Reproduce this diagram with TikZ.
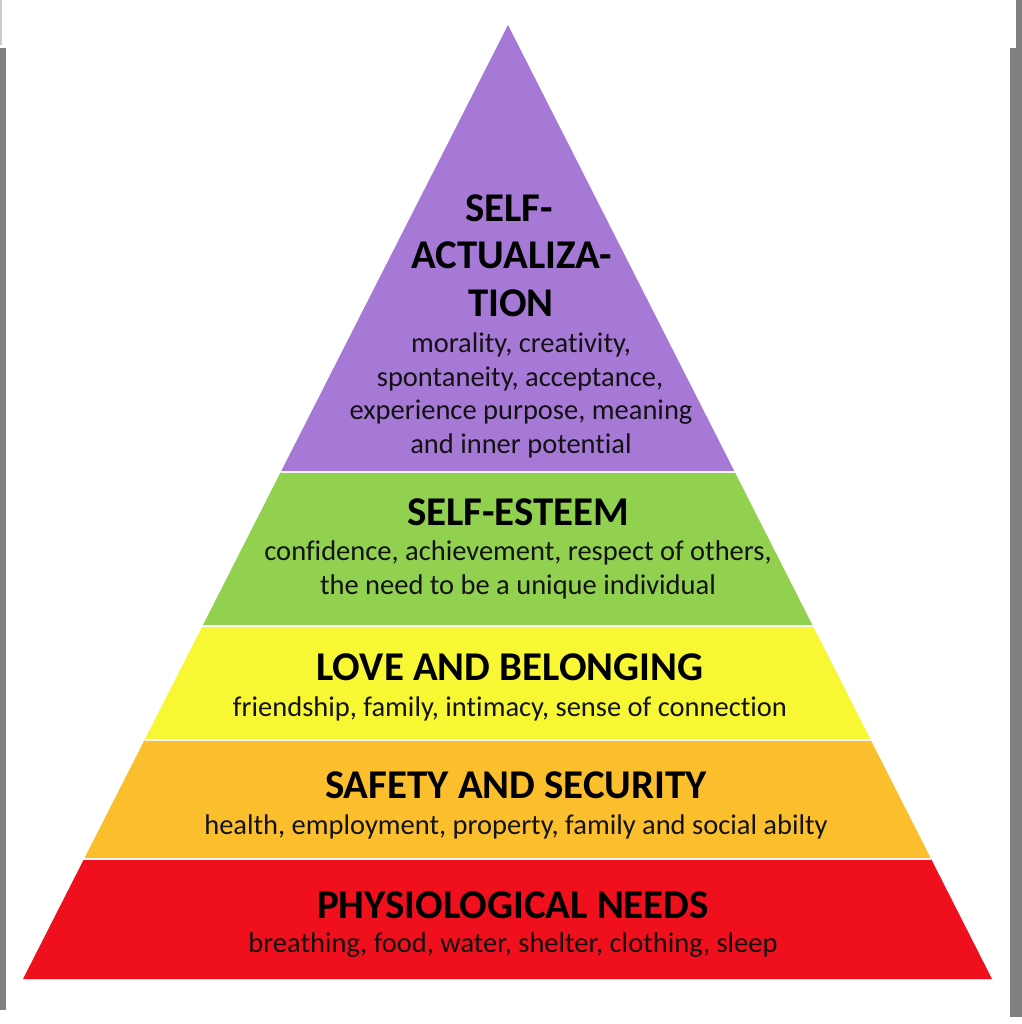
\documentclass[tikz,border=0pt]{standalone}
\usepackage{fontspec}
\setmainfont{Carlito}[Ligatures={NoCommon}]
\usetikzlibrary{calc}
\definecolor{lvpurple}{RGB}{166,121,214}
\definecolor{lvgreen}{RGB}{146,208,80}
\definecolor{lvyellow}{RGB}{247,247,52}
\definecolor{lvorange}{RGB}{251,190,45}
\definecolor{lvred}{RGB}{240,15,28}
\definecolor{lvtext}{RGB}{18,18,18}
\definecolor{framegray}{RGB}{128,128,128}
\tikzset{
  title/.style={anchor=base, inner sep=0pt, text=black, font=\fontsize{41}{48}\selectfont\bfseries},
  desc/.style={anchor=base, inner sep=0pt, text=lvtext, font=\fontsize{28.6}{33}\selectfont},
  sep/.style={draw=white!92!gray, line width=1.2bp},
}
\begin{document}
\begin{tikzpicture}[x=1bp,y=-1bp]
\useasboundingbox (0,0) rectangle (1022,1024);
\fill[white] (0,0) rectangle (1022,1024);
% frame bars
\fill[framegray] (0,48) rectangle (6,1010);
\fill[framegray!40] (0,0) rectangle (2,45);
\fill[framegray] (1010,48) rectangle (1022,1017);
\fill[framegray] (1016,0) rectangle (1022,48);
% pyramid corners
\coordinate (A) at (508,25);
\coordinate (L) at (23,979);
\coordinate (R) at (992,979);
\coordinate (l1) at ($(A)!0.46855!(L)$); \coordinate (r1) at ($(A)!0.46855!(R)$);
\coordinate (l2) at ($(A)!0.62998!(L)$); \coordinate (r2) at ($(A)!0.62998!(R)$);
\coordinate (l3) at ($(A)!0.74948!(L)$); \coordinate (r3) at ($(A)!0.74948!(R)$);
\coordinate (l4) at ($(A)!0.87421!(L)$); \coordinate (r4) at ($(A)!0.87421!(R)$);
% layers
\fill[lvpurple] (A) -- (r1) -- (l1) -- cycle;
\fill[lvgreen] (l1) -- (r1) -- (r2) -- (l2) -- cycle;
\fill[lvyellow] (l2) -- (r2) -- (r3) -- (l3) -- cycle;
\fill[lvorange] (l3) -- (r3) -- (r4) -- (l4) -- cycle;
\fill[lvred] (l4) -- (r4) -- (R) -- (L) -- cycle;
\draw[sep] (l1) -- (r1);
\draw[sep] (l2) -- (r2);
\draw[sep] (l3) -- (r3);
\draw[sep] (l4) -- (r4);
% texts
\node[title] (t1a) at (509,221) {SELF-};
\node[title] (t1b) at (512,268) {ACTUALIZA-};
\node[title] (t1c) at (511,316) {TION};
\node[desc] (d1a) at (521,352) {morality, creativity,};
\node[desc] (d1b) at (520,386) {spontaneity, acceptance,};
\node[desc] (d1c) at (521,419) {experience purpose, meaning};
\node[desc] (d1d) at (521,453) {and inner potential};
\node[title] (t2) at (518,525) {SELF-ESTEEM};
\node[desc] (d2a) at (518,560) {confidence, achievement, respect of others,};
\node[desc] (d2b) at (518,594) {the need to be a unique individual};
\node[title] (t3) at (510,680) {LOVE AND BELONGING};
\node[desc] (d3) at (510,716) {friendship, family, intimacy, sense of connection};
\node[title] (t4) at (516,798) {SAFETY AND SECURITY};
\node[desc] (d4) at (516,834) {health, employment, property, family and social abilty};
\node[title] (t5) at (513,918) {PHYSIOLOGICAL NEEDS};
\node[desc] (d5) at (513,952) {breathing, food, water, shelter, clothing, sleep};
\end{tikzpicture}
\end{document}
